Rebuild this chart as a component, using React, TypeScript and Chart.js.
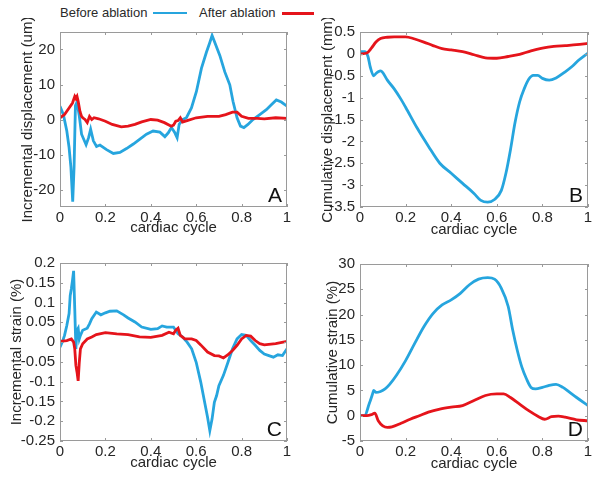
import React, { useEffect, useRef } from "react";
import { Chart, registerables } from "chart.js";
Chart.register(...registerables);

const FONT = '"Liberation Sans", Arial, sans-serif';
const BLUE = "#26a5de";
const RED = "#e5141b";
const FRAME = "#9a9a9a";
const TEXT = "#262626";

const xTickValues = [0, 0.2, 0.4, 0.6, 0.8, 1];
const xTickLabels = ["0", "0.2", "0.4", "0.6", "0.8", "1"];
const xTitle = "cardiac cycle";
const legendLabels = ["Before ablation", "After ablation"];

// Panel A: incremental displacement
const aBeforeX = [0, 0.015, 0.03, 0.04, 0.048, 0.056, 0.062, 0.068, 0.075, 0.085, 0.095, 0.115, 0.126, 0.135, 0.147, 0.161, 0.176, 0.205, 0.235, 0.264, 0.293, 0.323, 0.352, 0.381, 0.41, 0.44, 0.462, 0.477, 0.491, 0.506, 0.516, 0.525, 0.54, 0.557, 0.579, 0.601, 0.623, 0.645, 0.66, 0.67, 0.682, 0.704, 0.726, 0.748, 0.762, 0.78, 0.795, 0.81, 0.828, 0.85, 0.88, 0.909, 0.931, 0.953, 0.975, 1];
const aBeforeY = [3.8, 1.4, -3.3, -8, -13.6, -23.5, -13.6, 4, 5, 1, -4.2, -7.2, -5.2, -2.8, -6.1, -7.7, -7.3, -8.6, -9.7, -9.4, -8.3, -7, -5.6, -4.2, -3.3, -3.6, -4.9, -3.8, -2.3, -3.8, -5.2, -1.4, 0, 0.5, 3.3, 8, 14.6, 19.2, 22, 24, 22, 18.3, 13.6, 9.9, 5.2, 0.5, -1.9, -2.3, -1.4, 0, 1.4, 2.8, 4.2, 5.6, 5, 3.8];
const aAfterX = [0, 0.02, 0.04, 0.055, 0.065, 0.07, 0.075, 0.08, 0.088, 0.095, 0.1, 0.11, 0.12, 0.13, 0.14, 0.15, 0.17, 0.2, 0.23, 0.27, 0.3, 0.33, 0.36, 0.4, 0.43, 0.46, 0.49, 0.5, 0.51, 0.52, 0.53, 0.54, 0.56, 0.6, 0.65, 0.7, 0.73, 0.76, 0.78, 0.8, 0.83, 0.87, 0.9, 0.95, 1];
const aAfterY = [0.5, 1.4, 3.3, 4.7, 6.6, 6, 6.6, 5.2, 2.3, 0.9, 0.5, 0, -0.9, 0.9, 0, 0.5, 0.2, -0.5, -1.4, -2.1, -1.9, -1.4, -0.7, 0, -0.2, -0.9, -1.9, -1.6, -0.5, -0.3, 0.5, -0.7, -0.3, 0.5, 0.9, 0.9, 1.4, 2.1, 2.1, 0.9, 0.3, 0.3, 0.2, 0.5, 0.3];
const aYTicks = [-20, -10, 0, 10, 20];
const aYLabels = ["-20", "-10", "0", "10", "20"];

// Panel B: cumulative displacement
const bBeforeX = [0, 0.02, 0.035, 0.045, 0.06, 0.07, 0.08, 0.09, 0.1, 0.12, 0.15, 0.18, 0.2, 0.25, 0.3, 0.35, 0.4, 0.45, 0.5, 0.53, 0.56, 0.59, 0.62, 0.64, 0.66, 0.68, 0.7, 0.72, 0.74, 0.76, 0.78, 0.8, 0.83, 0.86, 0.9, 0.93, 0.96, 1];
const bBeforeY = [0.05, 0.05, -0.06, -0.3, -0.5, -0.45, -0.41, -0.39, -0.43, -0.6, -0.8, -1.04, -1.22, -1.69, -2.11, -2.5, -2.73, -2.96, -3.19, -3.35, -3.39, -3.33, -3.12, -2.73, -2.19, -1.57, -1.1, -0.8, -0.58, -0.49, -0.49, -0.56, -0.6, -0.55, -0.41, -0.29, -0.14, 0.02];
const bAfterX = [0, 0.03, 0.05, 0.07, 0.09, 0.12, 0.15, 0.2, 0.24, 0.28, 0.32, 0.36, 0.4, 0.45, 0.5, 0.55, 0.6, 0.65, 0.7, 0.75, 0.8, 0.85, 0.9, 0.95, 1];
const bAfterY = [0, 0.02, 0.13, 0.27, 0.35, 0.38, 0.39, 0.39, 0.34, 0.27, 0.19, 0.12, 0.09, 0.05, -0.02, -0.09, -0.1, -0.06, -0.01, 0.07, 0.13, 0.17, 0.19, 0.21, 0.24];
const bYTicks = [-3.5, -3, -2.5, -2, -1.5, -1, -0.5, 0, 0.5];
const bYLabels = ["-3.5", "-3", "-2.5", "-2", "-1.5", "-1", "-0.5", "0", "0.5"];

// Panel C: incremental strain
const cBeforeX = [0, 0.01, 0.02, 0.03, 0.04, 0.045, 0.05, 0.055, 0.06, 0.065, 0.07, 0.075, 0.08, 0.085, 0.09, 0.1, 0.12, 0.13, 0.14, 0.16, 0.18, 0.2, 0.22, 0.25, 0.28, 0.3, 0.33, 0.36, 0.4, 0.43, 0.45, 0.47, 0.5, 0.52, 0.54, 0.56, 0.58, 0.6, 0.62, 0.64, 0.65, 0.66, 0.67, 0.68, 0.69, 0.7, 0.72, 0.74, 0.76, 0.78, 0.8, 0.82, 0.84, 0.86, 0.88, 0.9, 0.92, 0.94, 0.96, 0.98, 1];
const cBeforeY = [-0.013, 0, 0.017, 0.042, 0.072, 0.118, 0.135, 0.156, 0.18, 0.084, -0.017, 0.03, 0.035, 0.008, 0.017, 0.03, 0.035, 0.046, 0.059, 0.076, 0.069, 0.074, 0.078, 0.079, 0.069, 0.061, 0.051, 0.038, 0.032, 0.034, 0.041, 0.038, 0.038, 0.021, 0.013, 0, -0.017, -0.051, -0.101, -0.16, -0.19, -0.224, -0.194, -0.152, -0.135, -0.11, -0.084, -0.051, -0.017, 0.008, 0.019, 0.017, 0.004, -0.008, -0.021, -0.03, -0.034, -0.038, -0.032, -0.034, -0.017];
const cAfterX = [0, 0.03, 0.05, 0.06, 0.065, 0.07, 0.075, 0.08, 0.085, 0.09, 0.1, 0.12, 0.14, 0.16, 0.2, 0.25, 0.3, 0.35, 0.4, 0.45, 0.48, 0.5, 0.51, 0.52, 0.53, 0.55, 0.58, 0.6, 0.62, 0.65, 0.68, 0.7, 0.72, 0.74, 0.76, 0.78, 0.8, 0.82, 0.84, 0.86, 0.88, 0.9, 0.95, 1];
const cAfterY = [0.002, 0.004, 0.008, 0, -0.017, -0.059, -0.076, -0.098, -0.051, -0.017, -0.004, 0.008, 0.013, 0.019, 0.024, 0.021, 0.019, 0.013, 0.012, 0.017, 0.025, 0.021, 0.03, 0.035, 0.017, 0.008, 0.008, 0.004, -0.007, -0.025, -0.034, -0.035, -0.04, -0.032, -0.021, -0.008, 0.008, 0.017, 0.015, 0.004, -0.004, -0.007, -0.004, 0.002];
const cYTicks = [-0.25, -0.2, -0.15, -0.1, -0.05, 0, 0.05, 0.1, 0.15, 0.2];
const cYLabels = ["-0.25", "-0.2", "-0.15", "-0.1", "-0.05", "0", "0.05", "0.1", "0.15", "0.2"];

// Panel D: cumulative strain
const dBeforeX = [0, 0.02, 0.04, 0.055, 0.06, 0.07, 0.09, 0.11, 0.13, 0.16, 0.2, 0.24, 0.28, 0.32, 0.36, 0.4, 0.44, 0.48, 0.52, 0.56, 0.59, 0.62, 0.65, 0.67, 0.69, 0.71, 0.73, 0.75, 0.77, 0.8, 0.83, 0.86, 0.89, 0.92, 0.95, 1];
const dBeforeY = [0, 0, 2.3, 4.3, 5, 4.6, 4.8, 5.3, 6.2, 8, 10.9, 14.3, 17.6, 20.2, 21.9, 22.9, 24.2, 25.9, 27, 27.3, 27, 25.2, 21.6, 16.9, 12.9, 9.6, 7.3, 5.6, 5.3, 5.6, 6, 6.2, 5.6, 4.6, 3.6, 2];
const dAfterX = [0, 0.03, 0.05, 0.065, 0.08, 0.1, 0.12, 0.14, 0.18, 0.22, 0.26, 0.3, 0.35, 0.4, 0.45, 0.5, 0.55, 0.6, 0.63, 0.66, 0.7, 0.74, 0.78, 0.81, 0.84, 0.87, 0.9, 0.95, 1];
const dAfterY = [0, 0, 0.2, 0.5, -1, -2, -2.3, -2.2, -1.5, -0.7, 0, 0.7, 1.3, 1.7, 2, 3, 4, 4.3, 4.3, 3.6, 2.3, 1, -0.1, -0.7, -0.2, -0.1, -0.3, -0.8, -1];
const dYTicks = [-5, 0, 5, 10, 15, 20, 25, 30];
const dYLabels = ["-5", "0", "5", "10", "15", "20", "25", "30"];

type Panel = {
  left: number; top: number; width: number; height: number;
  padLeft: number; padTop: number; padRight: number;
  yAxisWidth: number; xAxisHeight: number; xTitlePadBottom: number;
  yMin: number; yMax: number; yTicks: number[]; yLabels: string[];
  yTitle: string; letter: string; smooth: boolean;
  bx: number[]; by: number[]; ax: number[]; ay: number[];
};

const panels: Panel[] = [
  { left: 0, top: 18, width: 302, height: 222, padLeft: 19, padTop: 13, padRight: 15, yAxisWidth: 41, xAxisHeight: 33, xTitlePadBottom: 3,
    yMin: -25, yMax: 25, yTicks: aYTicks, yLabels: aYLabels, yTitle: "Incremental displacement (um)", letter: "A", smooth: false,
    bx: aBeforeX, by: aBeforeY, ax: aAfterX, ay: aAfterY },
  { left: 302, top: 18, width: 302, height: 222, padLeft: 17, padTop: 13, padRight: 16, yAxisWidth: 41, xAxisHeight: 33, xTitlePadBottom: 1,
    yMin: -3.5, yMax: 0.5, yTicks: bYTicks, yLabels: bYLabels, yTitle: "Cumulative displacement (mm)", letter: "B", smooth: true,
    bx: bBeforeX, by: bBeforeY, ax: bAfterX, ay: bAfterY },
  { left: 0, top: 244, width: 302, height: 237, padLeft: 8, padTop: 19, padRight: 15, yAxisWidth: 52, xAxisHeight: 40, xTitlePadBottom: 9,
    yMin: -0.25, yMax: 0.2, yTicks: cYTicks, yLabels: cYLabels, yTitle: "Incremental strain (%)", letter: "C", smooth: false,
    bx: cBeforeX, by: cBeforeY, ax: cAfterX, ay: cAfterY },
  { left: 302, top: 244, width: 302, height: 237, padLeft: 22, padTop: 20, padRight: 16, yAxisWidth: 36, xAxisHeight: 40, xTitlePadBottom: 8,
    yMin: -5, yMax: 30, yTicks: dYTicks, yLabels: dYLabels, yTitle: "Cumulative strain (%)", letter: "D", smooth: true,
    bx: dBeforeX, by: dBeforeY, ax: dAfterX, ay: dAfterY },
];

function labelFor(values: number[], labels: string[], v: number): string {
  let best = 0;
  for (let i = 1; i < values.length; i++) {
    if (Math.abs(values[i] - v) < Math.abs(values[best] - v)) best = i;
  }
  return labels[best];
}

const framePlugin = {
  id: "frame",
  afterDatasetsDraw(chart: any, _args: any, opts: any) {
    const { ctx, chartArea: a, scales } = chart;
    ctx.save();
    ctx.strokeStyle = FRAME;
    ctx.lineWidth = 1;
    ctx.strokeRect(a.left + 0.5, a.top + 0.5, a.right - a.left - 1, a.bottom - a.top - 1);
    const L = 3;
    ctx.beginPath();
    for (const t of scales.x.ticks) {
      const px = Math.round(scales.x.getPixelForValue(t.value)) + 0.5;
      ctx.moveTo(px, a.bottom); ctx.lineTo(px, a.bottom - L);
      ctx.moveTo(px, a.top); ctx.lineTo(px, a.top + L);
    }
    for (const t of scales.y.ticks) {
      const py = Math.round(scales.y.getPixelForValue(t.value)) + 0.5;
      ctx.moveTo(a.left, py); ctx.lineTo(a.left + L, py);
      ctx.moveTo(a.right, py); ctx.lineTo(a.right - L, py);
    }
    ctx.stroke();
    ctx.fillStyle = "#111";
    ctx.font = "21px " + FONT;
    ctx.textAlign = "right";
    ctx.textBaseline = "alphabetic";
    ctx.fillText(opts.letter, a.right - 5, a.bottom - 5);
    ctx.restore();
  },
};

function PanelChart({ p }: { p: Panel }) {
  const ref = useRef<HTMLCanvasElement | null>(null);
  useEffect(() => {
    if (!ref.current) return;
    const mk = (xs: number[], ys: number[]) => xs.map((x, i) => ({ x, y: ys[i] }));
    const chart = new Chart(ref.current, {
      type: "line",
      data: {
        datasets: [
          { label: legendLabels[1], data: mk(p.ax, p.ay), borderColor: RED, borderWidth: 2.8, pointRadius: 0, fill: false, order: 0,
            tension: p.smooth ? 0.4 : 0, cubicInterpolationMode: p.smooth ? "monotone" : "default" } as any,
          { label: legendLabels[0], data: mk(p.bx, p.by), borderColor: BLUE, borderWidth: 2.8, pointRadius: 0, fill: false, order: 1,
            tension: p.smooth ? 0.4 : 0, cubicInterpolationMode: p.smooth ? "monotone" : "default" } as any,
        ],
      },
      options: {
        animation: false,
        responsive: false,
        devicePixelRatio: 1,
        layout: { padding: { left: p.padLeft, top: p.padTop, right: p.padRight, bottom: 0 } },
        plugins: {
          legend: { display: false },
          tooltip: { enabled: false },
          frame: { letter: p.letter },
        } as any,
        scales: {
          x: {
            type: "linear", min: 0, max: 1,
            afterBuildTicks: (s: any) => { s.ticks = xTickValues.map((v) => ({ value: v })); },
            afterFit: (s: any) => { s.height = p.xAxisHeight; },
            grid: { display: false, drawTicks: false },
            border: { display: false },
            ticks: { padding: 2, color: TEXT, font: { size: 15, family: FONT }, autoSkip: false, maxRotation: 0,
              callback: (v: any) => labelFor(xTickValues, xTickLabels, Number(v)) },
            title: { display: true, text: xTitle, color: TEXT, font: { size: 15, family: FONT }, padding: { top: 0, bottom: p.xTitlePadBottom } },
          },
          y: {
            type: "linear", min: p.yMin, max: p.yMax,
            afterBuildTicks: (s: any) => { s.ticks = p.yTicks.map((v) => ({ value: v })); },
            afterFit: (s: any) => { s.width = p.yAxisWidth; },
            grid: { display: false, drawTicks: false },
            border: { display: false },
            ticks: { padding: 5, color: TEXT, font: { size: 15, family: FONT }, autoSkip: false,
              callback: (v: any) => labelFor(p.yTicks, p.yLabels, Number(v)) },
            title: { display: true, text: p.yTitle, color: TEXT, font: { size: 15, family: FONT }, padding: { top: 0, bottom: 0 } },
          },
        },
      },
      plugins: [framePlugin],
    });
    return () => chart.destroy();
  }, [p]);
  return (
    <canvas ref={ref} width={p.width} height={p.height}
      style={{ position: "absolute", left: p.left, top: p.top, width: p.width, height: p.height }} />
  );
}

export default function App() {
  const textStyle: React.CSSProperties = {
    position: "absolute", top: 5, fontFamily: FONT, fontSize: 13, lineHeight: "16px", color: "#2a2a2a", whiteSpace: "nowrap",
  };
  return (
    <div style={{ position: "absolute", left: 0, top: 0, width: 604, height: 481, background: "#fff", overflow: "hidden" }}>
      <div style={{ ...textStyle, left: 60 }}>{legendLabels[0]}</div>
      <div style={{ position: "absolute", left: 153, top: 12, width: 34, height: 2, background: BLUE }} />
      <div style={{ ...textStyle, left: 199 }}>{legendLabels[1]}</div>
      <div style={{ position: "absolute", left: 282, top: 12, width: 32, height: 3, background: RED }} />
      {panels.map((p) => <PanelChart key={p.letter} p={p} />)}
    </div>
  );
}
